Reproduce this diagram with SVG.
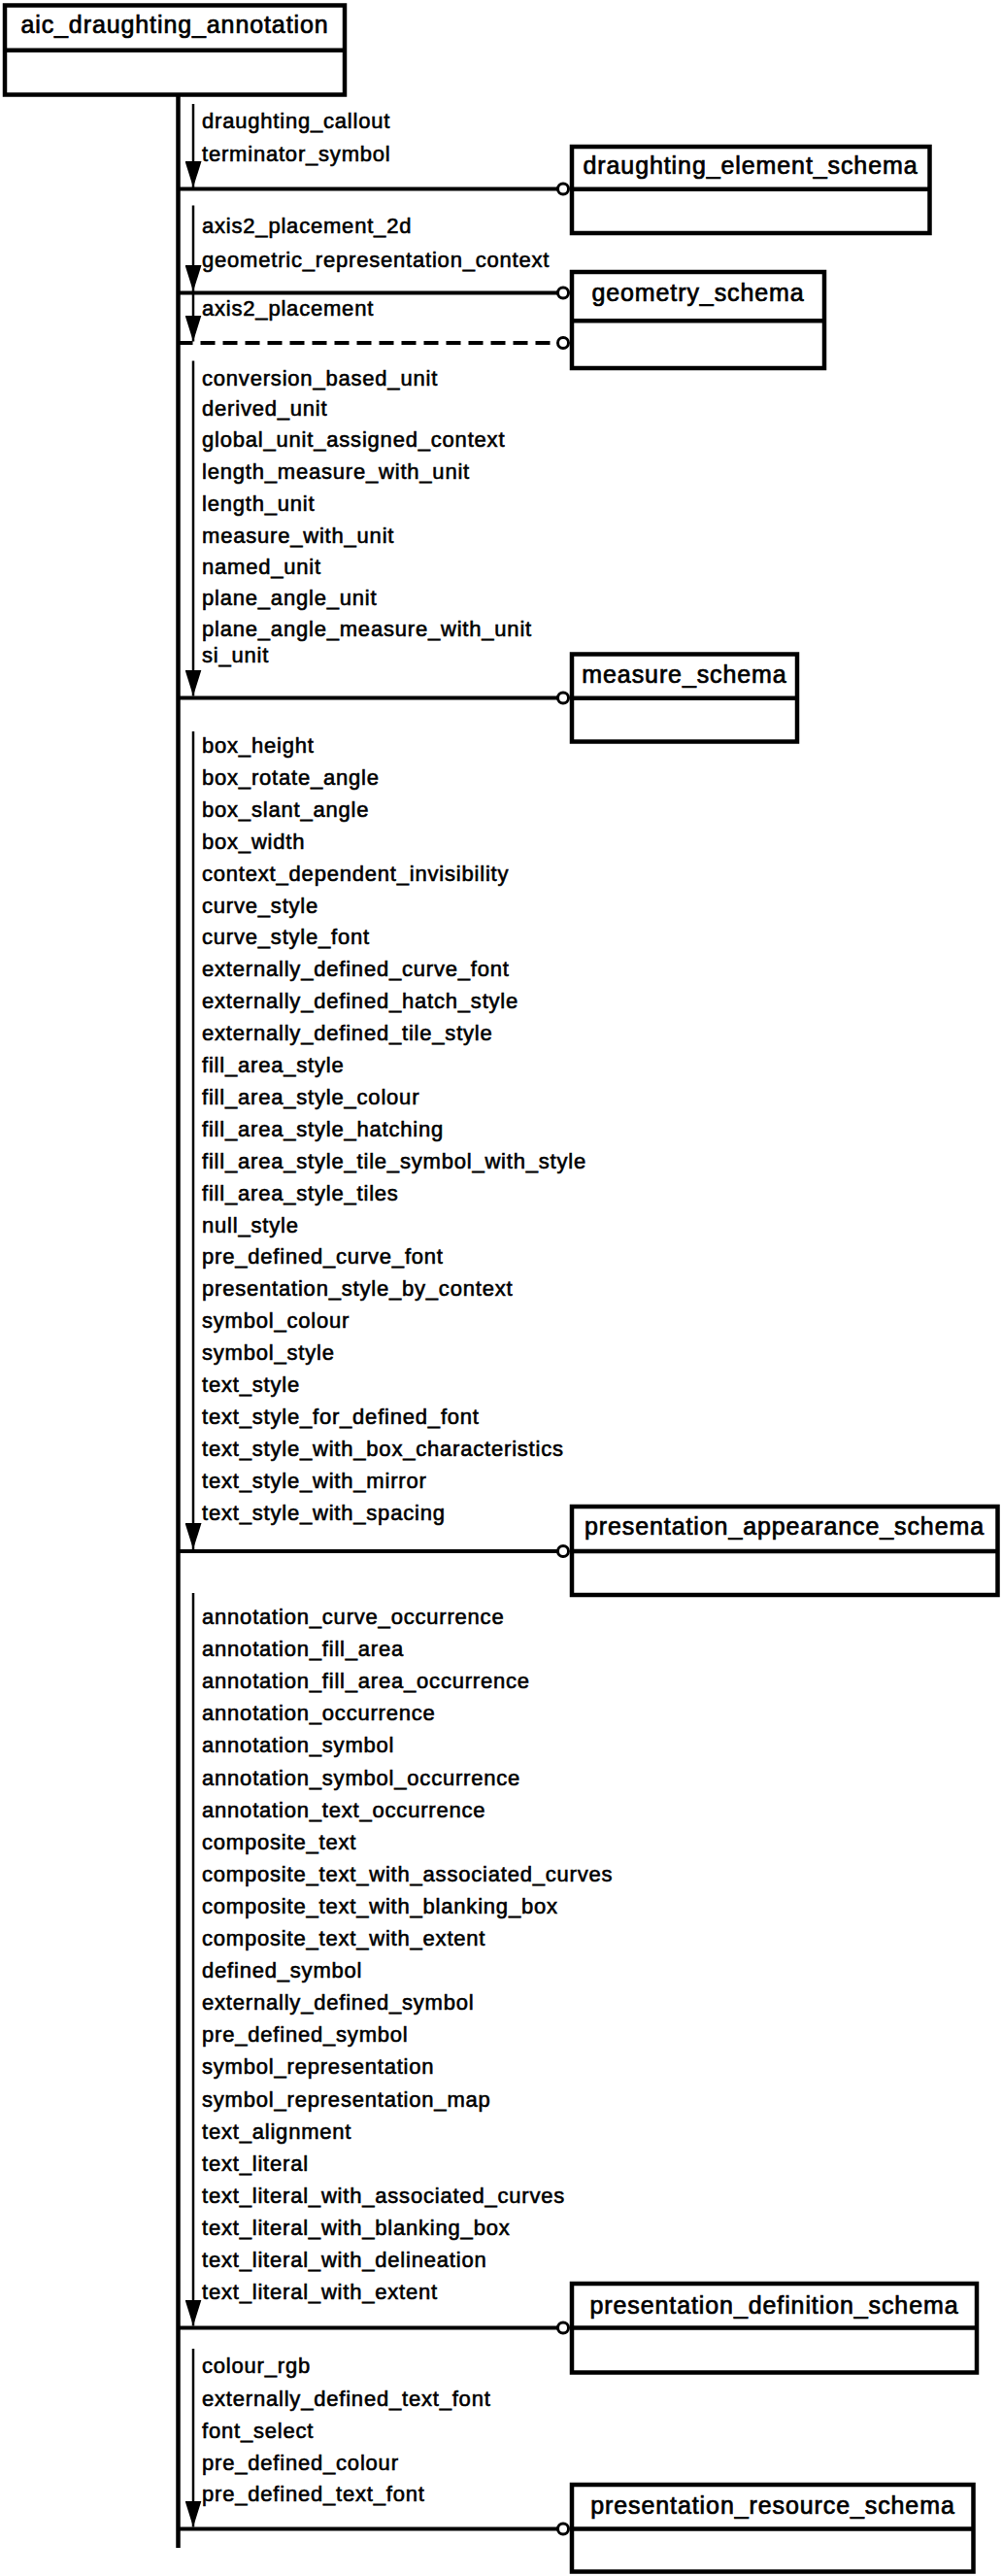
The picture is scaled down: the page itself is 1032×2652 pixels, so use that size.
<svg xmlns="http://www.w3.org/2000/svg" width="1032" height="2652" viewBox="0 0 1032 2652">
<style>
.box{fill:#fff;stroke:#000;stroke-width:4.5}
.div{stroke:#000;stroke-width:4.5}
.title{font-family:"Liberation Sans",Arial,sans-serif;font-size:25px;letter-spacing:0.9px;text-anchor:middle;fill:#000;stroke:#000;stroke-width:0.7px}
.lbl{font-family:"Liberation Sans",Arial,sans-serif;font-size:22px;letter-spacing:0.8px;fill:#000;stroke:#000;stroke-width:0.6px}
.trunk{stroke:#000;stroke-width:4.5;fill:none}
.conn{stroke:#000;stroke-width:4;fill:none}
.dash{stroke-dasharray:15 8}
.arr{stroke:#000;stroke-width:2.5;fill:none;marker-end:url(#ah)}
.end{fill:#fff;stroke:#000;stroke-width:3}
</style>
<defs>
<marker id="ah" markerUnits="userSpaceOnUse" markerWidth="27" markerHeight="17" viewBox="0 0 27 17" refX="27" refY="8.5" orient="auto">
<path d="M0,0 L27,8.5 L0,17 z" fill="#000"/>
</marker>
</defs>
<rect width="1032" height="2652" fill="#fff"/>

<g id="connectors">
<line class="trunk" x1="183.5" y1="97" x2="183.5" y2="2623"/>
<line class="conn" x1="183.5" y1="194.5" x2="574" y2="194.5"/>
<line class="conn" x1="183.5" y1="301.5" x2="574" y2="301.5"/>
<line class="conn dash" x1="183.5" y1="353" x2="574" y2="353"/>
<line class="conn" x1="183.5" y1="718.5" x2="574" y2="718.5"/>
<line class="conn" x1="183.5" y1="1597" x2="574" y2="1597"/>
<line class="conn" x1="183.5" y1="2396.5" x2="574" y2="2396.5"/>
<line class="conn" x1="183.5" y1="2603.5" x2="574" y2="2603.5"/>
<circle class="end" cx="580" cy="194.5" r="5.5"/>
<circle class="end" cx="580" cy="301.5" r="5.5"/>
<circle class="end" cx="580" cy="353" r="5.5"/>
<circle class="end" cx="580" cy="718.5" r="5.5"/>
<circle class="end" cx="580" cy="1597" r="5.5"/>
<circle class="end" cx="580" cy="2396.5" r="5.5"/>
<circle class="end" cx="580" cy="2603.5" r="5.5"/>
<line class="arr" x1="199" y1="107" x2="199" y2="193"/>
<line class="arr" x1="199" y1="211.5" x2="199" y2="300"/>
<line class="arr" x1="199" y1="301.5" x2="199" y2="351.5"/>
<line class="arr" x1="199" y1="371.5" x2="199" y2="716.5"/>
<line class="arr" x1="199" y1="753" x2="199" y2="1595"/>
<line class="arr" x1="199" y1="1640" x2="199" y2="2394.5"/>
<line class="arr" x1="199" y1="2418" x2="199" y2="2601.5"/>
</g>

<g id="aic_draughting_annotation">
<rect class="box" x="5" y="5.5" width="350" height="92"/>
<line class="div" x1="5" y1="51.7" x2="355" y2="51.7"/>
<text class="title" x="180" y="34">aic_draughting_annotation</text>
</g>

<g id="draughting_element_schema">
<rect class="box" x="589" y="151" width="368.5" height="89"/>
<line class="div" x1="589" y1="194.7" x2="957.5" y2="194.7"/>
<text class="title" x="773" y="179.3">draughting_element_schema</text>
</g>

<g id="geometry_schema">
<rect class="box" x="589" y="280" width="260" height="99"/>
<line class="div" x1="589" y1="330.3" x2="849" y2="330.3"/>
<text class="title" x="719" y="310">geometry_schema</text>
</g>

<g id="measure_schema">
<rect class="box" x="589" y="673.5" width="232" height="90"/>
<line class="div" x1="589" y1="718.7" x2="821" y2="718.7"/>
<text class="title" x="705" y="703">measure_schema</text>
</g>

<g id="presentation_appearance_schema">
<rect class="box" x="589" y="1551" width="438.5" height="91"/>
<line class="div" x1="589" y1="1597" x2="1027.5" y2="1597"/>
<text class="title" x="808" y="1580">presentation_appearance_schema</text>
</g>

<g id="presentation_definition_schema">
<rect class="box" x="589" y="2351" width="417" height="91.5"/>
<line class="div" x1="589" y1="2396.5" x2="1006" y2="2396.5"/>
<text class="title" x="797.5" y="2381.7">presentation_definition_schema</text>
</g>

<g id="presentation_resource_schema">
<rect class="box" x="589" y="2558" width="413.5" height="89.5"/>
<line class="div" x1="589" y1="2603.5" x2="1002.5" y2="2603.5"/>
<text class="title" x="796" y="2588">presentation_resource_schema</text>
</g>

<g id="labels">
<text class="lbl" x="208" y="131.7">draughting_callout</text>
<text class="lbl" x="208" y="165.7">terminator_symbol</text>
<text class="lbl" x="208" y="240">axis2_placement_2d</text>
<text class="lbl" x="208" y="275">geometric_representation_context</text>
<text class="lbl" x="208" y="325">axis2_placement</text>
<text class="lbl" x="208" y="396.7">conversion_based_unit</text>
<text class="lbl" x="208" y="428.3">derived_unit</text>
<text class="lbl" x="208" y="460">global_unit_assigned_context</text>
<text class="lbl" x="208" y="493.3">length_measure_with_unit</text>
<text class="lbl" x="208" y="525.7">length_unit</text>
<text class="lbl" x="208" y="559">measure_with_unit</text>
<text class="lbl" x="208" y="591">named_unit</text>
<text class="lbl" x="208" y="623.3">plane_angle_unit</text>
<text class="lbl" x="208" y="655">plane_angle_measure_with_unit</text>
<text class="lbl" x="208" y="681.7">si_unit</text>
<text class="lbl" x="208" y="775">box_height</text>
<text class="lbl" x="208" y="807.9">box_rotate_angle</text>
<text class="lbl" x="208" y="840.8">box_slant_angle</text>
<text class="lbl" x="208" y="873.7">box_width</text>
<text class="lbl" x="208" y="906.6">context_dependent_invisibility</text>
<text class="lbl" x="208" y="939.5">curve_style</text>
<text class="lbl" x="208" y="972.4">curve_style_font</text>
<text class="lbl" x="208" y="1005.3">externally_defined_curve_font</text>
<text class="lbl" x="208" y="1038.2">externally_defined_hatch_style</text>
<text class="lbl" x="208" y="1071.1">externally_defined_tile_style</text>
<text class="lbl" x="208" y="1104">fill_area_style</text>
<text class="lbl" x="208" y="1136.9">fill_area_style_colour</text>
<text class="lbl" x="208" y="1169.8">fill_area_style_hatching</text>
<text class="lbl" x="208" y="1202.7">fill_area_style_tile_symbol_with_style</text>
<text class="lbl" x="208" y="1235.6">fill_area_style_tiles</text>
<text class="lbl" x="208" y="1268.5">null_style</text>
<text class="lbl" x="208" y="1301.4">pre_defined_curve_font</text>
<text class="lbl" x="208" y="1334.3">presentation_style_by_context</text>
<text class="lbl" x="208" y="1367.2">symbol_colour</text>
<text class="lbl" x="208" y="1400.1">symbol_style</text>
<text class="lbl" x="208" y="1433">text_style</text>
<text class="lbl" x="208" y="1465.9">text_style_for_defined_font</text>
<text class="lbl" x="208" y="1498.8">text_style_with_box_characteristics</text>
<text class="lbl" x="208" y="1531.7">text_style_with_mirror</text>
<text class="lbl" x="208" y="1564.6">text_style_with_spacing</text>
<text class="lbl" x="208" y="1672">annotation_curve_occurrence</text>
<text class="lbl" x="208" y="1705.1">annotation_fill_area</text>
<text class="lbl" x="208" y="1738.2">annotation_fill_area_occurrence</text>
<text class="lbl" x="208" y="1771.3">annotation_occurrence</text>
<text class="lbl" x="208" y="1804.4">annotation_symbol</text>
<text class="lbl" x="208" y="1837.5">annotation_symbol_occurrence</text>
<text class="lbl" x="208" y="1870.6">annotation_text_occurrence</text>
<text class="lbl" x="208" y="1903.7">composite_text</text>
<text class="lbl" x="208" y="1936.8">composite_text_with_associated_curves</text>
<text class="lbl" x="208" y="1969.9">composite_text_with_blanking_box</text>
<text class="lbl" x="208" y="2003">composite_text_with_extent</text>
<text class="lbl" x="208" y="2036.1">defined_symbol</text>
<text class="lbl" x="208" y="2069.2">externally_defined_symbol</text>
<text class="lbl" x="208" y="2102.3">pre_defined_symbol</text>
<text class="lbl" x="208" y="2135.4">symbol_representation</text>
<text class="lbl" x="208" y="2168.5">symbol_representation_map</text>
<text class="lbl" x="208" y="2201.6">text_alignment</text>
<text class="lbl" x="208" y="2234.7">text_literal</text>
<text class="lbl" x="208" y="2267.8">text_literal_with_associated_curves</text>
<text class="lbl" x="208" y="2300.9">text_literal_with_blanking_box</text>
<text class="lbl" x="208" y="2334">text_literal_with_delineation</text>
<text class="lbl" x="208" y="2367.1">text_literal_with_extent</text>
<text class="lbl" x="208" y="2443.3">colour_rgb</text>
<text class="lbl" x="208" y="2476.7">externally_defined_text_font</text>
<text class="lbl" x="208" y="2510">font_select</text>
<text class="lbl" x="208" y="2543.3">pre_defined_colour</text>
<text class="lbl" x="208" y="2575">pre_defined_text_font</text>
</g>
</svg>
